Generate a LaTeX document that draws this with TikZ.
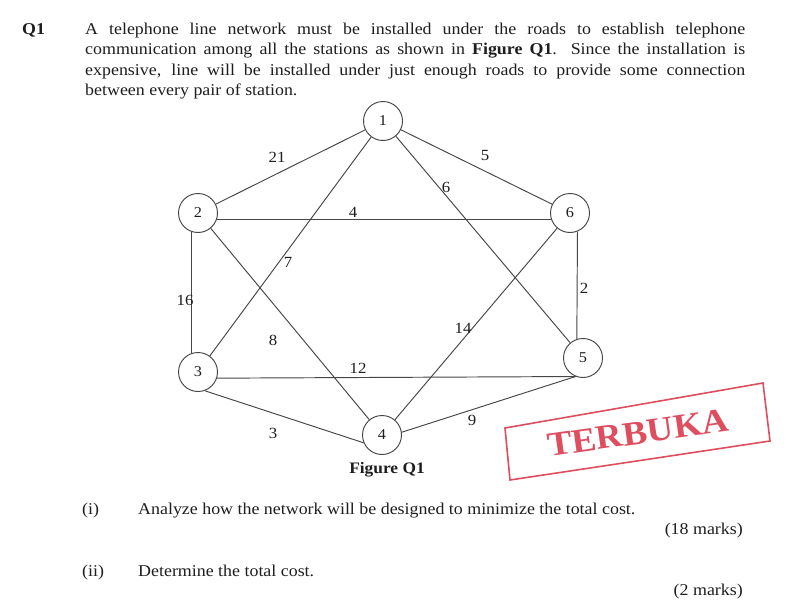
\documentclass[tikz,border=0pt]{standalone}
\usepackage{fontspec}
\setmainfont[FakeStretch=1.085]{Liberation Serif}
\definecolor{ink}{RGB}{30,30,30}
\definecolor{roadc}{RGB}{70,70,70}
\definecolor{stampred}{RGB}{222,78,95}
\begin{document}
\begin{tikzpicture}[x=1pt,y=-1pt,
  txt/.style={font=\fontsize{16.5}{20.3}\selectfont, inner sep=0pt, text=ink},
  station/.style={circle, draw=roadc, line width=0.95pt, minimum size=39pt, inner sep=0pt, font=\fontsize{15}{18}\selectfont, text=ink, fill=white},
  road/.style={draw=roadc, line width=0.95pt},
  wt/.style={font=\fontsize{15.5}{18}\selectfont, inner sep=0pt, text=ink},
  stampbox/.style={draw=stampred, line width=1.6pt, line join=miter},
  stamptext/.style={font=\fontsize{34}{40}\selectfont\bfseries, text=stampred, inner sep=0pt}]
\useasboundingbox[fill=white] (0,0) rectangle (793,613);

% question text
\node[txt, font=\fontsize{16.5}{20.3}\selectfont\bfseries, anchor=base west] (q) at (22,34.5) {Q1};
\node[txt, anchor=base west, text width=660pt, align=justify] (para) at (85,34.5)
 {A telephone line network must be installed under the roads to establish telephone\linebreak
  communication among all the stations as shown in \textbf{Figure Q1}. Since the installation is\linebreak
  expensive, line will be installed under just enough roads to provide some connection\linebreak
  between every pair of station.};

% stations
\node[station] (n1) at (383,121) {1};
\node[station] (n2) at (198,213) {2};
\node[station] (n6) at (570,213) {6};
\node[station] (n3) at (198,372) {3};
\node[station] (n5) at (583,358) {5};
\node[station] (n4) at (382,435) {4};

% roads
\draw[road] (n1) -- (n2);
\draw[road] (n1) -- (n6);
\draw[road] (n1) -- (n3);
\draw[road] (n1) -- (n5);
\draw[road] (n2.-18) -- (n6.198);
\draw[road] (n2.252) -- (n3.108);
\draw[road] (n2) -- (n4);
\draw[road] (n6.292) -- (n5.108);
\draw[road] (n6) -- (n4);
\draw[road] (n3.-18) -- (n5.248);
\draw[road] (n3.-70) -- (n4.203);
\draw[road] (n4.8) -- (n5.248);

% weights
\node[wt] (w12) at (277,157) {21};
\node[wt] (w16) at (485,156) {5};
\node[wt] (w15) at (446,187) {6};
\node[wt] (w26) at (353,212) {4};
\node[wt] (w13) at (288,262) {7};
\node[wt] (w65) at (584,288) {2};
\node[wt] (w23) at (185,300) {16};
\node[wt] (w24) at (273,340) {8};
\node[wt] (w64) at (463,328) {14};
\node[wt] (w35) at (358,368) {12};
\node[wt] (w34) at (273,433) {3};
\node[wt] (w45) at (472,420) {9};

\node[txt, font=\fontsize{16}{19}\selectfont\bfseries, anchor=base] (cap) at (387,473) {Figure Q1};

% stamp
\draw[stampbox] (505,428) -- (763,383) -- (770,441) -- (510,480) -- cycle;
\node[stamptext, rotate=8] (stamp) at (638,433) {TERBUKA};

% parts
\node[txt, anchor=base west] (i) at (82,514) {(i)};
\node[txt, anchor=base west] (ia) at (138,514) {Analyze how the network will be designed to minimize the total cost.};
\node[txt, anchor=base east] (im) at (743,534) {(18 marks)};
\node[txt, anchor=base west] (ii) at (82,576) {(ii)};
\node[txt, anchor=base west] (iia) at (138,576) {Determine the total cost.};
\node[txt, anchor=base east] (iim) at (743,595) {(2 marks)};
\end{tikzpicture}
\end{document}
